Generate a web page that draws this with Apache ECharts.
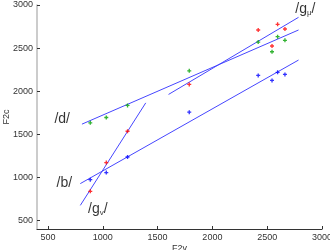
<!DOCTYPE html>
<html><head><meta charset="utf-8">
<script src="https://cdn.jsdelivr.net/npm/echarts@6/dist/echarts.min.js"></script>
<style>html,body{margin:0;padding:0;background:#fff}#c{width:330px;height:250px}</style>
</head><body><div id="c"></div>
<script>
// F2v values (x) per token group
const f2vVals = [886, 1032, 1226, 1789, 2418, 2544, 2595, 2662];
const greenF2c = [1632, 1694, 1834, 2236, 2570, 2457, 2632, 2590];
const redF2c   = [837, 1171, 1535, 2078, 2710, 2524, 2776, 2721];
const blueF2c  = [973, 1055, 1236, 1756, 2183, 2125, 2218, 2194];
// regression lines [x1,y1,x2,y2]
const lineD  = [[810, 1617], [2786, 2710]];
const lineGu = [[1600, 1962], [2786, 2857]];
const lineB  = [[795, 927], [2786, 2361]];
const lineGv = [[795, 674], [1392, 1864]];
// label anchors
const labelPts = [
  {name: '/d/', value: [630, 1675]},
  {name: '/b/', value: [649, 930]},
  {name: '/g{s|v}/', value: [955, 628]},
  {name: '/g{s|\u03bc}/', value: [2848, 2950]}
];
const tickVals = [500, 1000, 1500, 2000, 2500, 3000];

const zip = (xs, ys) => xs.map((x, i) => [x, ys[i]]);
const plus = 'path://M1,0H2V1H3V2H2V3H1V2H0V1H1Z';
const lineColor = '#4646ff';
const mkLine = d => ({type: 'line', data: d, symbol: 'none', lineStyle: {color: lineColor, width: 1}, silent: true, z: 2});
const mkPts = (d, c) => ({type: 'scatter', data: d, symbol: plus, symbolSize: 4, itemStyle: {color: c}, z: 3});
const fmt = v => String(v);

const chart = echarts.init(document.getElementById('c'), null, {renderer: 'canvas'});
chart.setOption({
  animation: false,
  grid: {left: 37, right: 8, top: 5, bottom: 21, containLabel: false, outerBoundsMode: 'none'},
  xAxis: {
    type: 'value', min: 400, max: 3000,
    name: 'F2v', nameLocation: 'middle', nameGap: 15, nameMoveOverlap: false,
    nameTextStyle: {fontFamily: 'Liberation Sans', fontSize: 9, color: '#333'},
    axisLine: {show: true, lineStyle: {color: '#333', width: 1}},
    axisTick: {show: true, inside: true, length: 3, customValues: tickVals, lineStyle: {color: '#333'}},
    axisLabel: {customValues: tickVals, formatter: fmt, fontFamily: 'Liberation Sans', fontSize: 9, color: '#333', margin: 4},
    splitLine: {show: false}
  },
  yAxis: {
    type: 'value', min: 400, max: 3000,
    name: 'F2c', nameLocation: 'middle', nameGap: 26, nameMoveOverlap: false,
    nameTextStyle: {fontFamily: 'Liberation Sans', fontSize: 9, color: '#333'},
    axisLine: {show: true, lineStyle: {color: '#bbb', width: 1.5}},
    axisTick: {show: true, inside: true, length: 3, customValues: tickVals, lineStyle: {color: '#333'}},
    axisLabel: {customValues: tickVals, formatter: fmt, fontFamily: 'Liberation Sans', fontSize: 9, color: '#333', margin: 4},
    splitLine: {show: false}
  },
  series: [
    mkLine(lineD), mkLine(lineGu), mkLine(lineB), mkLine(lineGv),
    mkPts(zip(f2vVals, greenF2c), '#00a000'),
    mkPts(zip(f2vVals, redF2c), '#ff0000'),
    mkPts(zip(f2vVals, blueF2c), '#0000ff'),
    {
      type: 'scatter', data: labelPts, symbolSize: 0, silent: true, z: 4,
      label: {
        show: true, position: 'inside', formatter: p => p.name,
        fontFamily: 'Liberation Sans', fontSize: 14, color: '#000',
        rich: {s: {fontFamily: 'Liberation Sans', fontSize: 8, color: '#000', verticalAlign: 'bottom', padding: [5, 0, 0, 0]}}
      }
    }
  ]
});
</script></body></html>
